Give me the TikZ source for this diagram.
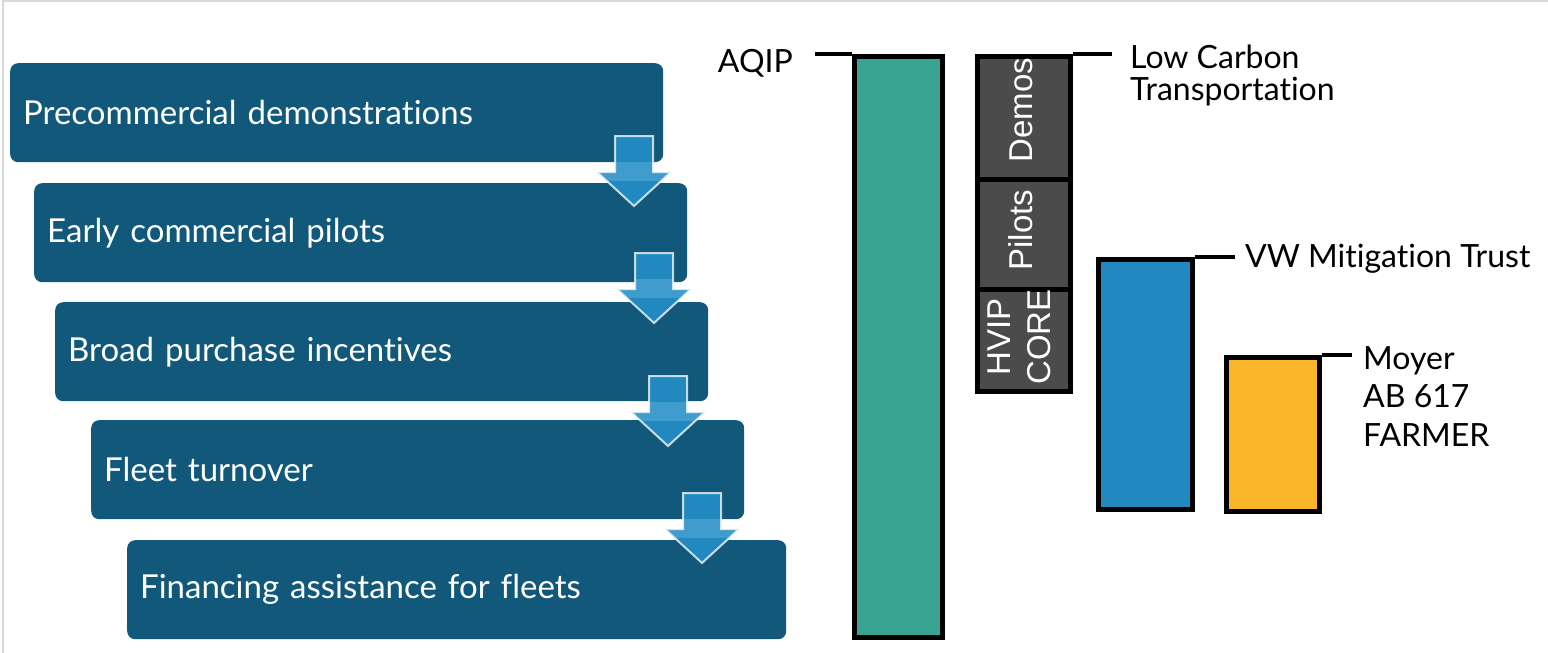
\documentclass[tikz,border=0pt]{standalone}
\usepackage{fontspec}
\setmainfont{Lato}[Ligatures=NoCommon]
\newfontfamily\arialf{Liberation Sans}
\definecolor{boxblue}{HTML}{11587A}
\definecolor{arrblue}{HTML}{2189C0}
\definecolor{arrlight}{HTML}{3F9CCD}
\definecolor{barteal}{HTML}{38A391}
\definecolor{barblue}{HTML}{2189BF}
\definecolor{baryellow}{HTML}{FBB528}
\definecolor{bargray}{HTML}{4B4B4B}
\newcommand\fatarrowpath[2]{(#1-19,#2) -- (#1+19,#2) -- (#1+19,#2+36) -- (#1+37,#2+36) -- (#1,#2+70) -- (#1-37,#2+36) -- (#1-19,#2+36) -- cycle}
\newcommand\fatarrow[2]{%
  \begin{scope}
    \clip \fatarrowpath{#1}{#2};
    \fill[arrblue] (#1-40,#2) rectangle (#1+40,#2+72);
    \fill[arrlight] (#1-40,#2+26) rectangle (#1+40,#2+45);
  \end{scope}
  \draw[white, draw opacity=0.75, line width=2pt, line join=miter] \fatarrowpath{#1}{#2};}
\begin{document}
\begin{tikzpicture}[x=1pt,y=-1pt,
  stagebox/.style={fill=boxblue, rounded corners=8pt, anchor=north west, inner xsep=13pt, inner ysep=0pt,
    text=white, font=\fontsize{33}{36}\selectfont, align=left, minimum height=99pt},
  bar/.style={draw=black, line width=4.5pt, anchor=north west, inner sep=0pt},
  leader/.style={line width=4.5pt, black},
  lbl/.style={font=\fontsize{32}{32}\selectfont, align=left, inner sep=0pt},
  vlbl/.style={text=white, rotate=90, font=\arialf\fontsize{33}{40}\selectfont, align=center, inner sep=0pt},
]
\useasboundingbox (0,0) rectangle (1548,653);
\fill[white] (0,0) rectangle (1548,653);
\draw[gray!30, line width=1.5pt] (3,653) -- (3,1) -- (1548,1);

% stage boxes
\node[stagebox, text width=627pt] (s1) at (10,63) {Precommercial demonstrations};
\node[stagebox, text width=627pt] (s2) at (34,183) {Early commercial pilots};
\node[stagebox, text width=627pt] (s3) at (55,302) {Broad purchase incentives};
\node[stagebox, text width=627pt] (s4) at (91,420) {Fleet turnover};
\node[stagebox, text width=633pt] (s5) at (127,540) {Financing assistance for fleets};

% arrows between stages
\fatarrow{634}{136}
\fatarrow{654}{253}
\fatarrow{668}{376}
\fatarrow{702}{493}

% AQIP bar
\node[bar, fill=barteal, minimum width=88pt, minimum height=581pt] (aqip) at (852,54) {};
\coordinate (aqipend) at (815,54);
\draw[leader] (aqip.north west) -- (aqipend);
\node[lbl, anchor=base east] (aqiplbl) at (793,72) {AQIP};

% stacked gray bar
\node[bar, fill=bargray, minimum width=93pt, minimum height=123pt] (demos) at (975,54) {};
\node[bar, fill=bargray, minimum width=93pt, minimum height=110pt] (pilots) at (975,177) {};
\node[bar, fill=bargray, minimum width=93pt, minimum height=102pt] (core) at (975,287) {};
\node[vlbl] (demostxt) at (1021,110) {Demos};
\node[vlbl] (pilotstxt) at (1021,230) {Pilots};
\node[vlbl] (coretxt) at (1019,337) {HVIP\\CORE};
\coordinate (lctend) at (1112,54);
\draw[leader] (demos.north east) -- (lctend);
\node[lbl, anchor=north west] (lctlbl) at (1130,45) {Low Carbon\\Transportation};

% VW bar
\node[bar, fill=barblue, minimum width=94pt, minimum height=250pt] (vw) at (1096,257) {};
\coordinate (vwend) at (1235,257);
\draw[leader] (vw.north east) -- (vwend);
\node[lbl, anchor=base west] (vwlbl) at (1245,267) {VW Mitigation Trust};

% Moyer bar
\node[bar, fill=baryellow, minimum width=93pt, minimum height=154pt] (moyer) at (1224,355) {};
\coordinate (moyerend) at (1352,355);
\draw[leader] (moyer.north east) -- (moyerend);
\node[lbl, anchor=north west, font=\fontsize{32}{38.5}\selectfont] (moyerlbl) at (1363,346) {Moyer\\AB 617\\FARMER};
\end{tikzpicture}
\end{document}
